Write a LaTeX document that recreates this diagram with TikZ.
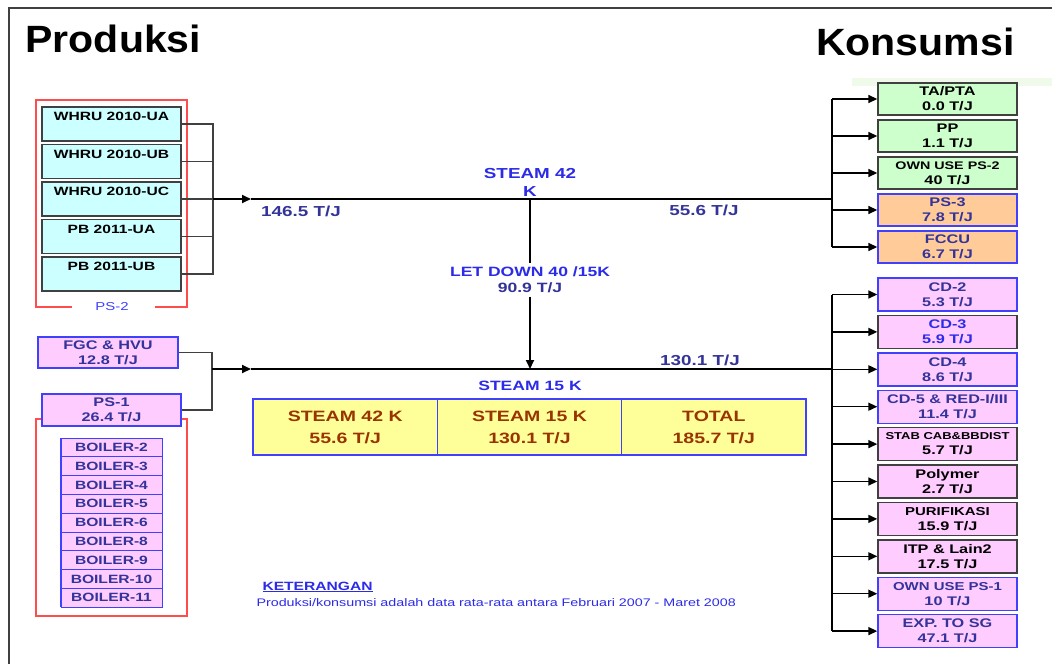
\documentclass[tikz,border=0pt]{standalone}
\usepackage{fontspec}
\setmainfont{Liberation Sans}[FakeStretch=1.3]
\newfontfamily\titlefont{Liberation Sans}[FakeStretch=1.08]
\usetikzlibrary{arrows.meta,positioning}
\tikzset{>={Triangle[length=9pt,width=8pt]}}

\definecolor{cyanfill}{HTML}{CCFFFF}
\definecolor{greenfill}{HTML}{CCFFCC}
\definecolor{orangefill}{HTML}{FFCC99}
\definecolor{pinkfill}{HTML}{FFCCFF}
\definecolor{tblfill}{HTML}{FFFF99}
\definecolor{edgegrey}{HTML}{404040}
\definecolor{edgeblue}{HTML}{4040FF}
\definecolor{navy}{HTML}{333399}
\definecolor{steamblue}{HTML}{2B2BE8}
\definecolor{tbltext}{HTML}{993300}
\definecolor{groupred}{HTML}{FF4D4D}
\definecolor{bandgreen}{HTML}{F0FAEA}

\newcommand\lblsize[2]{{\fontsize{#1}{15}\selectfont #2}}

\begin{document}
\begin{tikzpicture}[x=1pt,y=-1pt,
    every node/.style={font=\bfseries\fontsize{12.5}{15}\selectfont},
    prod/.style={draw=edgegrey, fill=cyanfill, line width=1.4pt, minimum width=139pt, minimum height=34pt, inner sep=0pt, align=center, font=\bfseries\fontsize{12}{15}\selectfont},
    con/.style={line width=1.4pt, minimum width=139pt, minimum height=32pt, inner sep=0pt, align=center},
    greybox/.style={con, draw=edgegrey, text=black},
    bluebox/.style={con, draw=edgeblue, text=navy},
    pinkbox/.style={con, draw=edgeblue, fill=pinkfill, text=navy},
    boiler/.style={draw=edgeblue, fill=pinkfill, line width=1pt, minimum width=101pt, minimum height=18.8pt, inner sep=0pt, outer sep=0pt, text=navy, font=\bfseries\fontsize{12}{13}\selectfont},
    cell/.style={draw=edgeblue, fill=tblfill, line width=1.4pt, minimum width=184.3pt, minimum height=56pt, inner sep=0pt, outer sep=0pt, align=center, text=tbltext, font=\bfseries\fontsize{15}{22}\selectfont},
    flow/.style={text=navy, font=\bfseries\fontsize{14.5}{18}\selectfont},
    steamlbl/.style={text=steamblue, align=center, font=\bfseries\fontsize{14.5}{18}\selectfont},
    group/.style={draw=groupred, line width=1.5pt},
    feed/.style={draw=edgegrey, line width=1.1pt},
    bus/.style={draw=black, line width=1.5pt},
    main/.style={draw=black, line width=2pt}
  ]
  \useasboundingbox (0,0) rectangle (1052,664);
  % frame and titles
  \draw[line width=2pt, edgegrey] (9,664) -- (9,8) -- (1052,8);
  \fill[bandgreen] (852,78) rectangle (1052,86);
  \node[anchor=base west, font=\titlefont\bfseries\fontsize{38}{40}\selectfont] (prodtitle) at (22,52) {Produksi};
  \node[anchor=base east, font=\titlefont\bfseries\fontsize{38}{40}\selectfont] (kontitle) at (1018,55) {Konsumsi};

  % PS-2 group
  \draw[group] (72,307) -- (36,307) -- (36,100) -- (187,100) -- (187,307) -- (155,307);
  \node[text=edgeblue, font=\fontsize{11.5}{12}\selectfont] (ps2lbl) at (112,307) {PS-2};
  \node[prod] (wua) at (111.5,124) {WHRU 2010-UA\\~};
  \node[prod] (wub) at (111.5,161.5) {WHRU 2010-UB\\~};
  \node[prod] (wuc) at (111.5,199) {WHRU 2010-UC\\~};
  \node[prod] (pbua) at (111.5,236.5) {PB 2011-UA\\~};
  \node[prod] (pbub) at (111.5,274) {PB 2011-UB\\~};

  \coordinate (jl42) at (213,199);
  \draw[feed] (wua.east) -- (wua.east -| jl42) -- (pbub.east -| jl42) -- (pbub.east);
  \draw[feed] (wub.east) -- (wub.east -| jl42);
  \draw[feed] (wuc.east) -- (jl42);
  \draw[feed] (pbua.east) -- (pbua.east -| jl42);

  % steam 42 K header
  \coordinate (a42) at (251,199);
  \coordinate (jr42) at (832,199);
  \draw[main,->] (jl42) -- (a42);
  \draw[main] (a42) -- (jr42);
  \node[flow] (in42) at (301,211) {146.5 T/J};
  \node[flow] (out42) at (704,210) {55.6 T/J};
  \node[steamlbl] (s42) at (530,182) {STEAM 42\\K};

  % consumers of steam 42 K
  \node[greybox, fill=greenfill] (tapta) at (947.5,99) {TA/PTA\\0.0 T/J};
  \node[greybox, fill=greenfill] (pp) at (947.5,136) {PP\\1.1 T/J};
  \node[greybox, fill=greenfill] (own2) at (947.5,173) {\lblsize{11}{OWN USE PS-2}\\40 T/J};
  \node[bluebox, fill=orangefill] (ps3) at (947.5,210) {PS-3\\7.8 T/J};
  \node[bluebox, fill=orangefill] (fccu) at (947.5,247) {FCCU\\6.7 T/J};
  \draw[bus] (jr42 |- tapta) -- (jr42 |- fccu);
  \draw[bus,->] (jr42 |- tapta) -- (tapta.west);
  \draw[bus,->] (jr42 |- pp) -- (pp.west);
  \draw[bus,->] (jr42 |- own2) -- (own2.west);
  \draw[bus,->] (jr42 |- ps3) -- (ps3.west);
  \draw[bus,->] (jr42 |- fccu) -- (fccu.west);

  % let down
  \coordinate (ld42) at (530,199);
  \coordinate (ld15) at (530,369);
  \node[steamlbl, font=\bfseries\fontsize{13.5}{16}\selectfont] (letdown) at (530,280) {LET DOWN 40 /15K\\\textcolor{navy}{90.9 T/J}};
  \draw[main] (ld42) -- (letdown.north);
  \draw[main,->] (letdown.south) -- (ld15);

  % PS-1 group
  \draw[group] (42,419) -- (36,419) -- (36,616) -- (187,616) -- (187,419) -- (181,419);
  \node[pinkbox, minimum width=140pt, minimum height=31pt] (fgc) at (108,352.5) {FGC \& HVU\\12.8 T/J};
  \node[pinkbox] (ps1) at (111.5,410) {PS-1\\26.4 T/J};
  \node[boiler] (b2) at (111.5,447.4) {BOILER-2};
  \node[boiler, below=0pt of b2] (b3) {BOILER-3};
  \node[boiler, below=0pt of b3] (b4) {BOILER-4};
  \node[boiler, below=0pt of b4] (b5) {BOILER-5};
  \node[boiler, below=0pt of b5] (b6) {BOILER-6};
  \node[boiler, below=0pt of b6] (b8) {BOILER-8};
  \node[boiler, below=0pt of b8] (b9) {BOILER-9};
  \node[boiler, below=0pt of b9] (b10) {BOILER-10};
  \node[boiler, below=0pt of b10] (b11) {BOILER-11};
  \draw[edgeblue, line width=2.2pt] (b2.north west) -- (b11.south west);

  % steam 15 K header
  \coordinate (jl15) at (212,369);
  \coordinate (a15) at (251,369);
  \coordinate (jr15) at (832,369);
  \draw[feed] (fgc.east) -- (fgc.east -| jl15) -- (ps1.east -| jl15) -- (ps1.east);
  \draw[main,->] (jl15) -- (a15);
  \draw[main] (a15) -- (jr15);
  \node[flow] (out15) at (700,360) {130.1 T/J};
  \node[steamlbl, font=\bfseries\fontsize{13.5}{16}\selectfont] (s15) at (530,386) {STEAM 15 K};

  % summary table
  \node[cell] (c42) at (345.2,427) {STEAM 42 K\\55.6 T/J};
  \node[cell, right=0pt of c42] (c15) {STEAM 15 K\\130.1 T/J};
  \node[cell, right=0pt of c15] (ctot) {TOTAL\\185.7 T/J};

  % consumers of steam 15 K
  \node[bluebox, fill=pinkfill, minimum height=33pt] (cd2) at (947.5,294.5) {CD-2\\5.3 T/J};
  \node[greybox, fill=pinkfill, minimum height=33pt, text=steamblue] (cd3) at (947.5,331.9) {CD-3\\5.9 T/J};
  \node[bluebox, fill=pinkfill, minimum height=33pt] (cd4) at (947.5,369.3) {CD-4\\8.6 T/J};
  \node[bluebox, fill=pinkfill, minimum height=33pt] (cd5) at (947.5,406.7) {CD-5 \& RED-I/III\\11.4 T/J};
  \node[greybox, fill=pinkfill, minimum height=33pt] (stab) at (947.5,444.1) {\lblsize{10}{STAB CAB\&BBDIST}\\5.7 T/J};
  \node[greybox, fill=pinkfill, minimum height=33pt] (poly) at (947.5,481.5) {Polymer\\2.7 T/J};
  \node[greybox, fill=pinkfill, minimum height=33pt] (puri) at (947.5,518.9) {\lblsize{11.5}{PURIFIKASI}\\15.9 T/J};
  \node[greybox, fill=pinkfill, minimum height=33pt] (itp) at (947.5,556.3) {ITP \& Lain2\\17.5 T/J};
  \node[bluebox, fill=pinkfill, minimum height=33pt] (own1) at (947.5,593.7) {\lblsize{11.5}{OWN USE PS-1}\\10 T/J};
  \node[bluebox, fill=pinkfill, minimum height=33pt] (exsg) at (947.5,631.1) {EXP. TO SG\\47.1 T/J};
  \draw[bus] (jr15 |- cd2) -- (jr15 |- exsg);
  \draw[bus,->] (jr15 |- cd2) -- (cd2.west);
  \draw[bus,->] (jr15 |- cd3) -- (cd3.west);
  \draw[bus,->] (jr15 |- cd4) -- (cd4.west);
  \draw[bus,->] (jr15 |- cd5) -- (cd5.west);
  \draw[bus,->] (jr15 |- stab) -- (stab.west);
  \draw[bus,->] (jr15 |- poly) -- (poly.west);
  \draw[bus,->] (jr15 |- puri) -- (puri.west);
  \draw[bus,->] (jr15 |- itp) -- (itp.west);
  \draw[bus,->] (jr15 |- own1) -- (own1.west);
  \draw[bus,->] (jr15 |- exsg) -- (exsg.west);

  % note
  \node[anchor=west, text=steamblue, font=\bfseries\fontsize{12}{13}\selectfont] (ket) at (259,587) {\underline{KETERANGAN}};
  \node[anchor=west, text=steamblue, font=\fontsize{11}{12}\selectfont] (ketnote) at (253,603) {Produksi/konsumsi adalah data rata-rata antara Februari 2007 - Maret 2008};
\end{tikzpicture}
\end{document}
